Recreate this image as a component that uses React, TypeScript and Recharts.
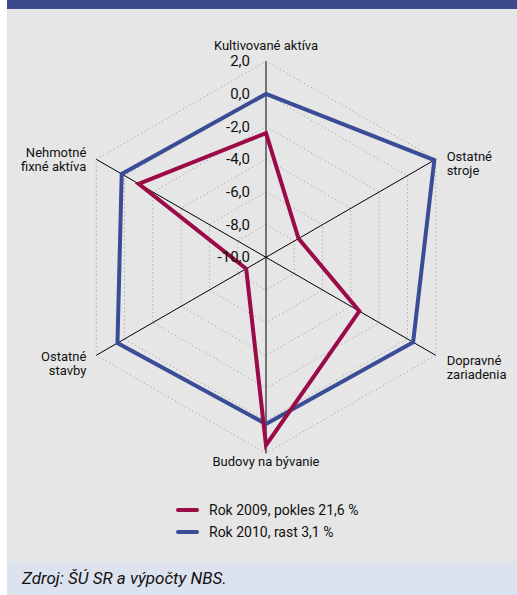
import React from "react";
import {
  RadarChart,
  Radar,
  PolarGrid,
  PolarAngleAxis,
  PolarRadiusAxis,
  Legend,
} from "recharts";

const categories = [
  "Kultivované aktíva",
  "Ostatné stroje",
  "Dopravné zariadenia",
  "Budovy na bývanie",
  "Ostatné stavby",
  "Nehmotné fixné aktíva",
];
const rok2009 = [-2.4, -7.7, -3.4, 1.5, -8.6, -1.0];
const rok2010 = [0.0, 1.9, 0.4, 0.2, 0.5, 0.2];
const radiusTicks = [-10, -8, -6, -4, -2, 0, 2];
const seriesNames = ["Rok 2009, pokles 21,6 %", "Rok 2010, rast 3,1 %"];

const RED = "#9b0b47";
const BLUE = "#3a4c96";
const FONT = "Roboto, 'Open Sans', sans-serif";

const data = categories.map((name, i) => ({
  name,
  y2009: rok2009[i],
  y2010: rok2010[i],
}));

const fmt = (v: number) => v.toFixed(1).replace(".", ",");

// category labels: top/bottom on one line, side ones split after the first word
const AngleTick = ({ x, y, payload, textAnchor }: any) => {
  const label = String(payload.value);
  const common = { fontFamily: FONT, fontSize: 13, fill: "#111" };
  if (textAnchor === "middle") {
    const above = y < 250;
    return (
      <text x={x} y={above ? y - 3.5 : y + 5} textAnchor="middle" {...common}>
        {label}
      </text>
    );
  }
  const idx = label.indexOf(" ");
  const first = label.slice(0, idx);
  const rest = label.slice(idx + 1);
  const right = textAnchor === "start";
  const tx = right ? x + 4 : x - 3;
  const ty = right ? y + 5.5 : y + 1.5;
  return (
    <text x={tx} y={ty} textAnchor={textAnchor} {...common}>
      <tspan x={tx}>{first}</tspan>
      <tspan x={tx} dy={14.5}>
        {rest}
      </tspan>
    </text>
  );
};

const RadiusTick = ({ x, y, payload }: any) => (
  <text
    x={x - 16}
    y={y + 5}
    textAnchor="end"
    fontFamily={FONT}
    fontSize={15}
    fill="#111"
  >
    {fmt(payload.value)}
  </text>
);

const LegendBox = () => (
  <div style={{ fontFamily: FONT, fontSize: 14, color: "#111" }}>
    {seriesNames.map((s, i) => (
      <div
        key={s}
        style={{ display: "flex", alignItems: "center", height: 21.7 }}
      >
        <span
          style={{
            display: "inline-block",
            width: 23,
            height: 4,
            borderRadius: 2,
            background: i === 0 ? RED : BLUE,
            marginRight: 10,
          }}
        />
        <span>{s}</span>
      </div>
    ))}
  </div>
);

export default function App() {
  return (
    <div
      style={{
        position: "fixed",
        left: 0,
        top: 0,
        width: 517,
        height: 595,
        background: "#ffffff",
      }}
    >
      <div style={{ position: "absolute", left: 7, top: 0, width: 510 }}>
        <div style={{ height: 9, background: "#3a4a8c" }} />
        <div style={{ height: 553, background: "#e6e6e6" }}>
          <RadarChart
            width={510}
            height={553}
            data={data}
            cx={259}
            cy={248.3}
            outerRadius={196}
            margin={{ top: 0, right: 0, bottom: 0, left: 0 }}
          >
            {/* dotted rings */}
            <PolarGrid
              gridType="polygon"
              radialLines={false}
              stroke="#999999"
              strokeDasharray="1 3"
              strokeWidth={1}
            />
            {/* solid spokes only */}
            <PolarGrid
              gridType="polygon"
              polarRadius={[0]}
              radialLines={true}
              stroke="#000000"
              strokeWidth={1}
            />
            <PolarAngleAxis
              dataKey="name"
              tick={<AngleTick />}
              tickLine={false}
              axisLine={false}
            />
            <PolarRadiusAxis
              angle={90}
              domain={[-10, 2]}
              ticks={radiusTicks as any}
              tickCount={7}
              tick={<RadiusTick />}
              axisLine={false}
              tickLine={false}
            />
            <Radar
              name={seriesNames[1]}
              dataKey="y2010"
              stroke={BLUE}
              strokeWidth={4}
              fill="none"
              fillOpacity={0}
              isAnimationActive={false}
            />
            <Radar
              name={seriesNames[0]}
              dataKey="y2009"
              stroke={RED}
              strokeWidth={4}
              fill="none"
              fillOpacity={0}
              isAnimationActive={false}
            />
            <Legend
              content={<LegendBox />}
              wrapperStyle={{
                position: "absolute",
                top: 490,
                left: 169,
                width: "auto",
              }}
            />
          </RadarChart>
        </div>
        <div
          style={{
            height: 33,
            background: "#dce2ee",
            fontFamily: FONT,
            fontStyle: "italic",
            fontSize: 17,
            color: "#111",
            lineHeight: "33px",
            paddingLeft: 15,
          }}
        >
          Zdroj: ŠÚ SR a výpočty NBS.
        </div>
      </div>
    </div>
  );
}
